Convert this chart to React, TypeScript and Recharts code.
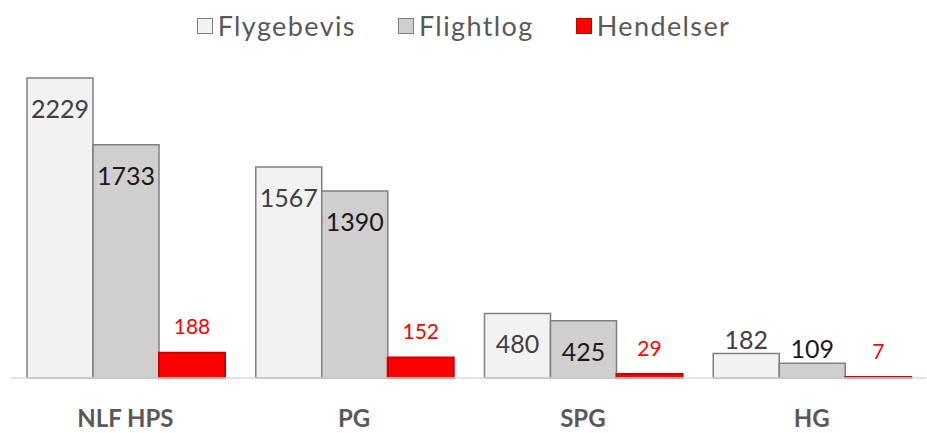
import { BarChart, Bar, XAxis, YAxis, LabelList } from 'recharts';

const categories = ['NLF HPS', 'PG', 'SPG', 'HG'];
const flygebevis = [2229, 1567, 480, 182];
const flightlog = [1733, 1390, 425, 109];
const hendelser = [188, 152, 29, 7];

const data = categories.map((name, i) => ({
  name,
  flygebevis: flygebevis[i],
  flightlog: flightlog[i],
  hendelser: hendelser[i],
}));

const FONT = 'Lato, "Liberation Sans", sans-serif';

const legendItems = [
  { label: 'Flygebevis', fill: '#f2f2f2', stroke: '#7f7f7f' },
  { label: 'Flightlog', fill: '#d0cece', stroke: '#7f7f7f' },
  { label: 'Hendelser', fill: '#ff0000', stroke: '#c00000' },
];

function grayLabel(color: string) {
  return (props: any) => {
    const { x, y, width, height, value } = props;
    const cx = x + width / 2;
    const cy = height > 40 ? y + 30 : y - 15;
    return (
      <text x={cx} y={cy} textAnchor="middle" dominantBaseline="central" fill={color} fontSize={25} fontFamily={FONT}>
        {value}
      </text>
    );
  };
}

const redLabel = (props: any) => {
  const { x, y, width, value } = props;
  return (
    <text x={x + width / 2} y={y - 27} textAnchor="middle" dominantBaseline="central" fill="#ff0000" fontSize={21} fontFamily={FONT}>
      {value}
    </text>
  );
};

export default function App() {
  return (
    <div style={{ position: 'absolute', left: 0, top: 0, width: 927, height: 433, background: '#fff' }}>
      <div
        style={{
          position: 'absolute',
          top: 9,
          left: 0,
          width: 927,
          display: 'flex',
          justifyContent: 'center',
          gap: 42,
          fontFamily: FONT,
          fontSize: 27,
          letterSpacing: 1.4,
          color: '#595959',
        }}
      >
        {legendItems.map((it) => (
          <div key={it.label} style={{ display: 'flex', alignItems: 'center' }}>
            <span
              style={{
                display: 'inline-block',
                width: 14,
                height: 14,
                background: it.fill,
                border: `1px solid ${it.stroke}`,
                marginRight: 5,
              }}
            />
            {it.label}
          </div>
        ))}
      </div>
      <BarChart
        width={927}
        height={433}
        data={data}
        margin={{ top: 41.5, right: 1, bottom: 0, left: 11 }}
        barCategoryGap={16}
        barGap={0}
      >
        <XAxis
          dataKey="name"
          height={55}
          tickLine={false}
          axisLine={{ stroke: '#d9d9d9', strokeWidth: 1.5 }}
          tick={{ fill: '#595959', fontSize: 24, fontWeight: 'bold', fontFamily: FONT }}
          tickMargin={26}
        />
        <YAxis hide domain={[0, 2500]} />
        <Bar dataKey="flygebevis" fill="#f2f2f2" stroke="#7f7f7f" strokeWidth={1.5} isAnimationActive={false}>
          <LabelList dataKey="flygebevis" content={grayLabel('#404040')} />
        </Bar>
        <Bar dataKey="flightlog" fill="#d0cece" stroke="#7f7f7f" strokeWidth={1.5} isAnimationActive={false}>
          <LabelList dataKey="flightlog" content={grayLabel('#1a1a1a')} />
        </Bar>
        <Bar dataKey="hendelser" fill="#ff0000" stroke="#d00000" strokeWidth={2} isAnimationActive={false}>
          <LabelList dataKey="hendelser" content={redLabel} />
        </Bar>
      </BarChart>
    </div>
  );
}
